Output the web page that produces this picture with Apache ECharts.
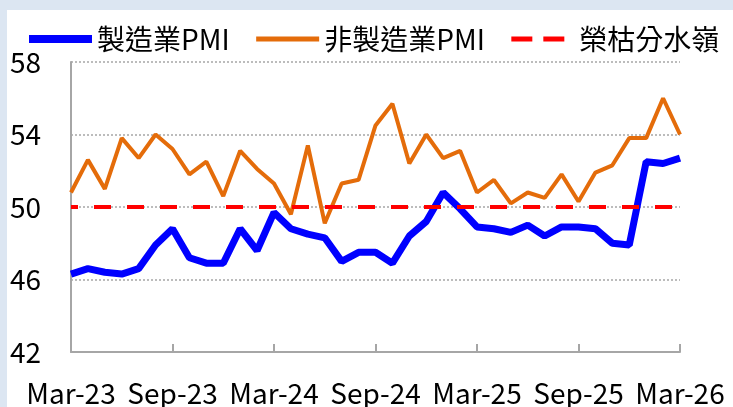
<!DOCTYPE html>
<html>
<head>
<meta charset="utf-8">
<script src="https://cdn.jsdelivr.net/npm/echarts@6/dist/echarts.min.js"></script>
<style>
  html, body { margin: 0; padding: 0; background: #dce6f2; }
  #chart { position: absolute; left: 7px; top: 10px; width: 726px; height: 397px; background: #fff; }
</style>
</head>
<body>
<div id="chart"></div>
<script>
// months, Mar-23 .. Mar-26
const months = [
  'Mar-23', 'Apr-23', 'May-23', 'Jun-23', 'Jul-23', 'Aug-23', 'Sep-23', 'Oct-23', 'Nov-23', 'Dec-23',
  'Jan-24', 'Feb-24', 'Mar-24', 'Apr-24', 'May-24', 'Jun-24', 'Jul-24', 'Aug-24', 'Sep-24', 'Oct-24',
  'Nov-24', 'Dec-24', 'Jan-25', 'Feb-25', 'Mar-25', 'Apr-25', 'May-25', 'Jun-25', 'Jul-25', 'Aug-25',
  'Sep-25', 'Oct-25', 'Nov-25', 'Dec-25', 'Jan-26', 'Feb-26', 'Mar-26'
];

// 製造業PMI
const mfgPMI = [
  46.3, 46.6, 46.4, 46.3, 46.6, 47.9, 48.8, 47.2, 46.9, 46.9,
  48.8, 47.6, 49.7, 48.8, 48.5, 48.3, 47.0, 47.5, 47.5, 46.9,
  48.4, 49.2, 50.8, 49.9, 48.9, 48.8, 48.6, 49.0, 48.4, 48.9,
  48.9, 48.8, 48.0, 47.9, 52.5, 52.4, 52.7
];

// 非製造業PMI
const nonMfgPMI = [
  50.8, 52.6, 51.0, 53.8, 52.7, 54.0, 53.2, 51.8, 52.5, 50.6,
  53.1, 52.1, 51.3, 49.6, 53.4, 49.1, 51.3, 51.5, 54.5, 55.7,
  52.4, 54.0, 52.7, 53.1, 50.8, 51.5, 50.2, 50.8, 50.5, 51.8,
  50.3, 51.9, 52.3, 53.8, 53.8, 56.0, 54.0
];

// 榮枯分水嶺
const waterline = 50;

const yMin = 42, yMax = 58, yStep = 4;

const font = '"Noto Sans CJK TC", "Noto Sans", sans-serif';
const grey = '#a6a6a6';
const noDot = { opacity: 0 };

const chart = echarts.init(document.getElementById('chart'));

chart.setOption({
  animation: false,
  textStyle: { fontFamily: font },
  grid: { left: 63, right: 53, top: 52, bottom: 55 },
  legend: {
    top: 10,
    left: 13,
    itemWidth: 63,
    itemHeight: 14,
    itemGap: 24,
    textStyle: { fontSize: 28, color: '#000', fontFamily: font },
    data: [
      { name: '製造業PMI', itemStyle: noDot, lineStyle: { width: 8 } },
      { name: '非製造業PMI', itemStyle: noDot, lineStyle: { width: 5 } },
      { name: '榮枯分水嶺', itemStyle: noDot, lineStyle: { width: 5, type: [21, 11] } }
    ]
  },
  xAxis: {
    type: 'category',
    data: months,
    boundaryGap: false,
    axisLine: { lineStyle: { color: grey, width: 2 } },
    axisTick: { inside: true, length: 8, interval: 5, lineStyle: { color: grey, width: 2 } },
    axisLabel: { interval: 5, fontSize: 28, color: '#000', margin: 27, fontFamily: font },
    splitLine: { show: false }
  },
  yAxis: {
    type: 'value',
    min: yMin,
    max: yMax,
    interval: yStep,
    axisLine: { show: true, lineStyle: { color: grey, width: 2 } },
    axisTick: { show: false },
    axisLabel: { fontSize: 28, color: '#000', align: 'left', margin: 61, fontFamily: font },
    splitLine: { lineStyle: { color: grey, width: 1.5, type: [2, 2] } }
  },
  series: [
    {
      name: '製造業PMI',
      type: 'line',
      data: mfgPMI,
      symbol: 'none',
      z: 4,
      color: '#0000ff',
      lineStyle: { color: '#0000ff', width: 7 }
    },
    {
      name: '非製造業PMI',
      type: 'line',
      data: nonMfgPMI,
      symbol: 'none',
      z: 3,
      color: '#e46c0a',
      lineStyle: { color: '#e46c0a', width: 4 }
    },
    {
      name: '榮枯分水嶺',
      type: 'line',
      data: [],
      symbol: 'none',
      z: 2,
      color: '#ff0000',
      lineStyle: { color: '#ff0000', width: 4, type: [17, 16] },
      markLine: {
        silent: true,
        symbol: 'none',
        label: { show: false },
        lineStyle: { color: '#ff0000', width: 4, type: [17, 16], dashOffset: 10 },
        data: [{ yAxis: waterline }]
      }
    }
  ]
});
</script>
</body>
</html>
